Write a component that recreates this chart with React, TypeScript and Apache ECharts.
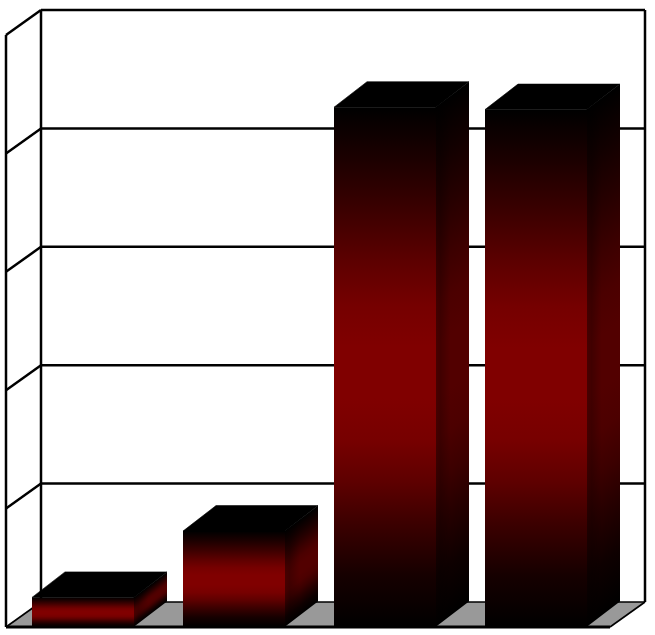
import React, { useEffect, useRef } from "react";
import * as echarts from "echarts";

const categories = ["1", "2", "3", "4"];
const barValues = [0.25, 0.81, 4.39, 4.37];
const yTicks = [0, 1, 2, 3, 4, 5];

const DEPTH_X = 35;
const DEPTH_Y = -25;
const BAR_DX = 33;
const BAR_DY = -25.5;
const BAR_WIDTH = 102;
const BAR_SHIFT = 1.5;
const LINE = "#000000";

const FRONT_STOPS: [number, string][] = [
  [0, "#000000"], [0.1, "#1c0000"], [0.2, "#3c0000"], [0.3, "#5e0000"], [0.38, "#750000"], [0.46, "#800000"],
  [0.56, "#800000"], [0.64, "#770000"], [0.72, "#5e0000"], [0.8, "#3c0000"], [0.9, "#160000"], [1, "#000000"],
];
const SIDE_STOPS: [number, string][] = [
  [0, "#000000"], [0.1, "#120000"], [0.2, "#260000"], [0.3, "#3c0000"], [0.38, "#4b0000"], [0.46, "#520000"],
  [0.56, "#520000"], [0.64, "#4c0000"], [0.72, "#3c0000"], [0.8, "#260000"], [0.9, "#0e0000"], [1, "#000000"],
];

const toStops = (s: [number, string][]) => s.map(([offset, color]) => ({ offset, color }));

const line = (x1: number, y1: number, x2: number, y2: number, w = 2.5) => ({
  type: "line",
  shape: { x1, y1, x2, y2 },
  style: { stroke: LINE, lineWidth: w, fill: "none" },
});

const renderFrame = (params: any) => {
  const c = params.coordSys;
  const l = c.x, t = c.y, r = c.x + c.width, b = c.y + c.height;
  return {
    type: "group",
    children: [
      {
        type: "polygon",
        shape: { points: [[l, b], [l + DEPTH_X, b + DEPTH_Y], [r + DEPTH_X, b + DEPTH_Y], [r, b]] },
        style: { fill: "#999999" },
      },
      line(l, t, l, b),
      line(l + DEPTH_X, t + DEPTH_Y, l + DEPTH_X, b + DEPTH_Y),
      line(r + DEPTH_X, t + DEPTH_Y, r + DEPTH_X, b + DEPTH_Y),
      line(r + DEPTH_X, b + DEPTH_Y, r, b, 1.6),
      line(l + DEPTH_X, b + DEPTH_Y, r + DEPTH_X, b + DEPTH_Y, 1.6),
      line(l, b, l + DEPTH_X, b + DEPTH_Y, 1.6),
      line(l, b, r, b, 2.8),
    ],
  };
};

const renderWall = (params: any, api: any) => {
  const v = api.value(1);
  const c = params.coordSys;
  const y = api.coord([0, v])[1];
  return {
    type: "group",
    children: [
      line(c.x, y, c.x + DEPTH_X, y + DEPTH_Y),
      line(c.x + DEPTH_X, y + DEPTH_Y, c.x + c.width + DEPTH_X, y + DEPTH_Y),
    ],
  };
};

const renderBar = (_params: any, api: any) => {
  const idx = api.value(0);
  const [cx, top] = api.coord([idx, api.value(1)]);
  const bottom = api.coord([idx, 0])[1];
  const x0 = cx + BAR_SHIFT - BAR_WIDTH / 2;
  const x1 = x0 + BAR_WIDTH;
  const h = bottom - top;
  const len = Math.hypot(BAR_DX, BAR_DY);
  const nx = -BAR_DY / len;
  const ny = BAR_DX / len;
  const proj = h * ny;
  const sidePoints = [
    [x1 - 0.5, top],
    [x1 + BAR_DX, top + BAR_DY],
    [x1 + BAR_DX, bottom + BAR_DY],
    [x1 - 0.5, bottom],
  ];
  return {
    type: "group",
    children: [
      {
        type: "polygon",
        shape: { points: sidePoints },
        style: {
          fill: new echarts.graphic.LinearGradient(
            x1, top, x1 + nx * proj, top + ny * proj, toStops(SIDE_STOPS), true,
          ),
        },
      },
      {
        type: "polygon",
        shape: { points: sidePoints },
        style: {
          fill: new echarts.graphic.LinearGradient(1, 0, 0, 0, [
            { offset: 0, color: "rgba(0,0,0,0)" },
            { offset: 0.55, color: "rgba(0,0,0,0)" },
            { offset: 0.85, color: "rgba(0,0,0,0.22)" },
            { offset: 1, color: "rgba(0,0,0,0.12)" },
          ]),
        },
      },
      {
        type: "rect",
        shape: { x: x0, y: top, width: BAR_WIDTH, height: h },
        style: {
          fill: new echarts.graphic.LinearGradient(0, 0, 0, 1, toStops(FRONT_STOPS)),
        },
      },
      {
        type: "polygon",
        shape: { points: [[x0, top], [x0 + BAR_DX, top + BAR_DY], [x1 + BAR_DX, top + BAR_DY], [x1, top]] },
        style: { fill: "#000000", stroke: "#000000", lineWidth: 0.6 },
      },
    ],
  };
};

export default function App() {
  const ref = useRef<HTMLDivElement>(null);
  useEffect(() => {
    const chart = echarts.init(ref.current!, undefined, { renderer: "svg" });
    chart.setOption({
      animation: false,
      backgroundColor: "#ffffff",
      grid: { left: 6, top: 35, width: 604, height: 592, containLabel: false },
      xAxis: {
        type: "category",
        data: categories,
        axisLabel: { show: false },
        axisLine: { show: false },
        axisTick: { show: false },
        splitLine: { show: false },
      },
      yAxis: {
        type: "value",
        min: 0,
        max: 5,
        interval: 1,
        axisLabel: { show: false },
        axisLine: { show: false },
        axisTick: { show: false },
        splitLine: { show: false },
      },
      series: [
        { type: "custom", silent: true, z: 1, renderItem: renderFrame, data: [[0, 0]], encode: { x: 0, y: 1 } },
        {
          type: "custom",
          silent: true,
          z: 2,
          renderItem: renderWall,
          data: yTicks.slice(1).map((v) => [0, v]),
          encode: { x: 0, y: 1 },
        },
        {
          type: "custom",
          silent: true,
          z: 3,
          renderItem: renderBar,
          data: barValues.map((v, i) => [i, v]),
          encode: { x: 0, y: 1 },
        },
      ],
    });
    return () => chart.dispose();
  }, []);
  return (
    <div
      ref={ref}
      style={{ position: "fixed", left: 0, top: 0, width: 655, height: 635 }}
    />
  );
}
